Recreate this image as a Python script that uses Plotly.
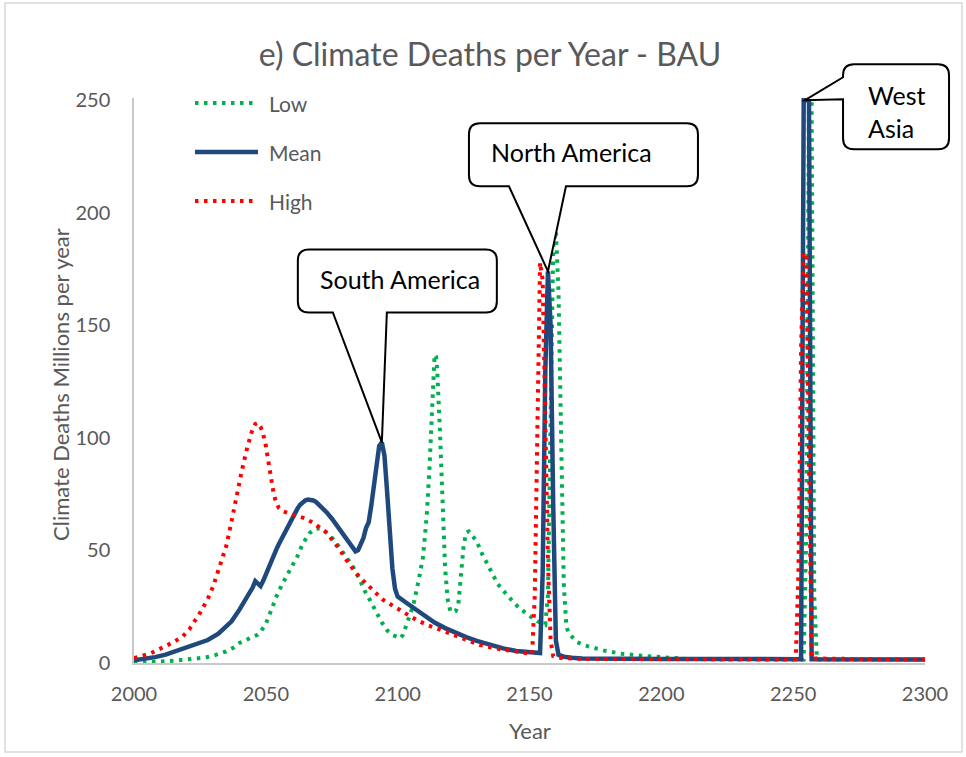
import plotly.graph_objects as go

# ---- data -------------------------------------------------------------
low_years = [2000, 2005, 2010, 2015, 2020, 2024, 2027, 2031, 2035, 2038, 2040, 2043, 2046, 2047,
             2048, 2049, 2050, 2051, 2052, 2053, 2054, 2056, 2058, 2060, 2062, 2064, 2065.5,
             2066.6, 2068.5, 2070.4, 2072, 2074, 2076, 2078, 2080, 2083, 2085.6, 2087.5, 2089.4,
             2092, 2094, 2096, 2098, 2100, 2101, 2102, 2103, 2104, 2106, 2107, 2108, 2109.6,
             2111, 2112, 2113, 2113.5, 2114, 2114.6, 2115, 2116, 2117, 2118, 2119, 2120, 2121,
             2122, 2123, 2124, 2125, 2126, 2127, 2128, 2130, 2132, 2135, 2138, 2142, 2146, 2150,
             2153, 2155, 2156, 2157, 2158, 2159, 2160, 2161, 2162, 2163, 2164, 2165, 2168, 2171,
             2178, 2185, 2193, 2200, 2210, 2220, 2254, 2255, 2256, 2257, 2258, 2259, 2300]
low_vals = [0, 0.2, 0.5, 1.0, 1.6, 2.0, 2.4, 3.6, 5.2, 7.0, 8.9, 10.5, 11.8, 12.6,
            13.8, 15.5, 17.5, 20.3, 23.5, 26.5, 29.5, 34.5, 39, 43, 47.5, 53, 56,
            57.7, 59.5, 59.9, 58.8, 57, 54.5, 51.2, 47.5, 42.9, 37, 32, 28.1,
            22.3, 18, 14.5, 12.5, 11.5, 11, 12.5, 15.5, 19.2, 26, 31, 37, 47,
            65, 85, 115, 130, 137, 136, 130, 104, 66, 42, 28, 23, 22.5,
            23, 26, 40, 52, 58, 58.5, 57, 54, 48.5, 41.5, 35, 29.5, 24.5, 21,
            18.5, 17.5, 17, 30, 120, 185, 192, 165, 100, 35, 16, 13, 9.3, 7.8,
            5.6, 4.1, 3.2, 2.5, 1.8, 1.6, 1.6, 60, 250, 250, 30, 1.6, 1.5]

mean_years = [2000, 2004, 2008, 2012, 2016, 2020, 2023, 2025, 2028, 2032, 2035, 2037, 2040, 2043,
              2045, 2046, 2047, 2048, 2049, 2050, 2051, 2052, 2053, 2054, 2055, 2056, 2057, 2058,
              2059, 2060, 2061, 2062, 2063, 2064, 2065, 2066, 2067, 2068, 2069, 2071, 2073, 2075,
              2077, 2079, 2081, 2083, 2084, 2085, 2086, 2087, 2088, 2089, 2090, 2091, 2092, 2093,
              2094, 2095, 2096, 2097, 2098, 2099, 2100, 2103, 2106, 2110, 2114, 2118, 2122, 2126,
              2130, 2135, 2140, 2145, 2150, 2154, 2155, 2156, 2157, 2158, 2159, 2160, 2161, 2163,
              2166, 2170, 2200, 2253, 2254, 2255, 2256, 2257, 2300]
mean_vals = [1.2, 1.7, 2.6, 3.7, 5.2, 6.8, 8.0, 8.6, 10.2, 13.0, 16.5, 18.5, 23.7, 29.5,
             33.5, 36.4, 35.2, 34.2, 36.5, 39.5, 42.5, 45.5, 48, 50.5, 53, 55.3, 57.8, 60,
             62.2, 64.5, 66.5, 68.6, 70.3, 71.5, 72.3, 72.6, 72.6, 72.2, 71.6, 69.6, 67, 64.2,
             61, 57.4, 54, 50.8, 49.6, 50.2, 52.5, 55.5, 60, 62.5, 70, 80, 90, 96.5,
             98, 92, 76, 58, 42, 33, 29.5, 27, 24.5, 21, 18, 15.5, 13.3, 11.5,
             9.8, 8, 6.5, 5.3, 4.6, 4.4, 40, 130, 174, 150, 70, 10, 3.6, 2.8,
             2.3, 2.0, 1.8, 1.7, 250, 250, 250, 1.7, 1.5]

high_years = [2000, 2003, 2006.5, 2009, 2012, 2015, 2018.5, 2021, 2025, 2028, 2030, 2033, 2035,
              2037, 2039, 2041, 2043, 2044, 2045, 2046, 2047, 2048, 2049, 2050, 2051, 2052, 2053,
              2054, 2055, 2056.5, 2059, 2062, 2065, 2068, 2071, 2073, 2076, 2078, 2081, 2084,
              2087, 2089.4, 2092, 2094.4, 2097, 2100.8, 2104, 2107, 2111, 2115, 2121, 2126, 2131,
              2137, 2144, 2150, 2151, 2152, 2153, 2154, 2155, 2156, 2157, 2158, 2159, 2161, 2170,
              2251, 2252, 2253, 2254, 2255, 2256, 2257, 2300]
high_vals = [2.2, 3.2, 4.4, 5.8, 7.4, 9.3, 11.8, 15, 22.2, 28.5, 34, 44, 52,
             63, 75, 86, 96, 100.5, 104, 106.2, 106.7, 105, 101.5, 96.5, 89, 81, 75,
             71, 68.8, 67.4, 66.5, 65.7, 64.2, 62.2, 59.8, 58, 53.5, 50.4, 45, 40.3,
             36.5, 34, 30.8, 28.1, 26.3, 23.7, 21.2, 19.2, 17, 15.4, 12.6, 10.3, 8.1,
             6.5, 5.2, 4.0, 4.0, 30, 110, 178, 170, 110, 45, 10, 3, 2.3, 1.8,
             1.7, 40, 140, 182, 182, 100, 2, 1.5]

series_names = ["Low", "Mean", "High"]
series_colors = ["#00B050", "#1F497D", "#FF0000"]

x_ticks = [2000, 2050, 2100, 2150, 2200, 2250, 2300]
y_ticks = [0, 50, 100, 150, 200, 250]
x_range = [2000, 2300]
y_range = [0, 251]

title_text = "e) Climate Deaths per Year - BAU"
x_title = "Year"
y_title = "Climate Deaths Millions per year"

# callout labels: (text, anchor year, anchor value)
callouts = [
    ("South America", 2094, 98),
    ("North America", 2157, 174),
    ("West<br>Asia", 2254.5, 250),
]

# ---- layout geometry ----------------------------------------------------
W, H = 966, 757
ML, MR, MT, MB = 134, 41, 98, 94
PW, PH = W - ML - MR, H - MT - MB

GRAY = "#595959"
FONT = "Lato"


def pxx(px):
    return (px - ML) / PW


def pxy(py):
    return (H - MB - py) / PH


def data_to_paper(x, y):
    return ((x - x_range[0]) / (x_range[1] - x_range[0]),
            (y - y_range[0]) / (y_range[1] - y_range[0]))


fig = go.Figure()

dotted = dict(width=4, dash="3.5px,5.5px")
fig.add_trace(go.Scatter(x=low_years, y=low_vals, mode="lines", name=series_names[0],
                         line=dict(color=series_colors[0], **dotted)))
fig.add_trace(go.Scatter(x=mean_years, y=mean_vals, mode="lines", name=series_names[1],
                         line=dict(color=series_colors[1], width=4.5)))
fig.add_trace(go.Scatter(x=high_years, y=high_vals, mode="lines", name=series_names[2],
                         line=dict(color=series_colors[2], **dotted)))

shapes = []
annotations = []

# legend drawn in the upper-left corner of the plot
legend_rows = [103, 152, 201]
for name, color, row in zip(series_names, series_colors, legend_rows):
    style = dict(color=color, width=4.5) if name == "Mean" else dict(color=color, **dotted)
    shapes.append(dict(type="line", xref="paper", yref="paper",
                       x0=pxx(195), x1=pxx(258), y0=pxy(row), y1=pxy(row), line=style))
    annotations.append(dict(text=name, xref="paper", yref="paper", x=pxx(267), y=pxy(row),
                            xanchor="left", yanchor="middle", showarrow=False,
                            font=dict(family=FONT, size=21, color=GRAY)))


def pt(x, y):
    # screen offsets (y down) -> shape pixel offsets (y up)
    return f"{x},{-y}"


def bottom_pointer_box(left, right, top, bottom, w1, w2, r=11):
    return (f"M{pt(left + r, top)} L{pt(right - r, top)} Q{pt(right, top)} {pt(right, top + r)} "
            f"L{pt(right, bottom - r)} Q{pt(right, bottom)} {pt(right - r, bottom)} "
            f"L{pt(w2, bottom)} L{pt(0, 0)} L{pt(w1, bottom)} "
            f"L{pt(left + r, bottom)} Q{pt(left, bottom)} {pt(left, bottom - r)} "
            f"L{pt(left, top + r)} Q{pt(left, top)} {pt(left + r, top)} Z")


def left_pointer_box(left, right, top, bottom, h1, h2, r=11):
    return (f"M{pt(left + r, top)} L{pt(right - r, top)} Q{pt(right, top)} {pt(right, top + r)} "
            f"L{pt(right, bottom - r)} Q{pt(right, bottom)} {pt(right - r, bottom)} "
            f"L{pt(left + r, bottom)} Q{pt(left, bottom)} {pt(left, bottom - r)} "
            f"L{pt(left, h2)} L{pt(0, 0)} L{pt(left, h1)} "
            f"L{pt(left, top + r)} Q{pt(left, top)} {pt(left + r, top)} Z")


box_paths = [
    bottom_pointer_box(-84, 115, -193, -130, -49, 5),
    bottom_pointer_box(-79, 150, -148, -85, -39, 18),
    left_pointer_box(38, 144, -36, 49, -23, -1),
]
text_offsets = [(18, 163, "center"), (24, 119, "center"), (61, -11, "left")]

for (label, cx, cy), path, (dx, dy, anchor) in zip(callouts, box_paths, text_offsets):
    ax, ay = data_to_paper(cx, cy)
    shapes.append(dict(type="path", xref="paper", yref="paper", xsizemode="pixel",
                       ysizemode="pixel", xanchor=ax, yanchor=ay, path=path, fillcolor="white",
                       line=dict(color="black", width=2), layer="above"))
    annotations.append(dict(text=label, xref="paper", yref="paper", x=ax, y=ay,
                            xshift=dx, yshift=dy, xanchor=anchor, yanchor="middle",
                            align="left", showarrow=False,
                            font=dict(family=FONT, size=25, color="black")))

# axis titles
annotations.append(dict(text=x_title, xref="paper", yref="paper", x=pxx(529.5), y=pxy(730),
                        xanchor="center", yanchor="middle", showarrow=False,
                        font=dict(family=FONT, size=22, color=GRAY)))
annotations.append(dict(text=y_title, xref="paper", yref="paper", x=pxx(60), y=pxy(385),
                        xanchor="center", yanchor="middle", textangle=-90, showarrow=False,
                        font=dict(family=FONT, size=22, color=GRAY)))

# light frame around the whole chart
shapes.append(dict(type="rect", xref="paper", yref="paper", x0=pxx(5), x1=pxx(962),
                   y0=pxy(752), y1=pxy(3), line=dict(color="#D9D9D9", width=1.5), layer="below"))

fig.update_layout(
    width=W, height=H,
    margin=dict(l=ML, r=MR, t=MT, b=MB),
    paper_bgcolor="white", plot_bgcolor="white",
    showlegend=False,
    title=dict(text=title_text, x=490 / W, y=1 - 55 / H, xref="container", yref="container",
               xanchor="center", yanchor="middle",
               font=dict(family=FONT, size=32, color=GRAY)),
    shapes=shapes, annotations=annotations,
    font=dict(family=FONT, color=GRAY),
)
fig.update_xaxes(range=x_range, tickvals=x_ticks, ticktext=[str(t) for t in x_ticks],
                 showgrid=False, zeroline=False, showline=True, linecolor="#C8C8C8", linewidth=1.5,
                 ticks="", ticklabelstandoff=12, tickfont=dict(family=FONT, size=20, color=GRAY))
fig.update_yaxes(range=y_range, tickvals=y_ticks, ticktext=[str(t) for t in y_ticks],
                 showgrid=False, zeroline=False, showline=True, linecolor="#C8C8C8", linewidth=1.5,
                 ticks="", ticklabelstandoff=18, tickfont=dict(family=FONT, size=20, color=GRAY))

fig.write_html("out.html")
